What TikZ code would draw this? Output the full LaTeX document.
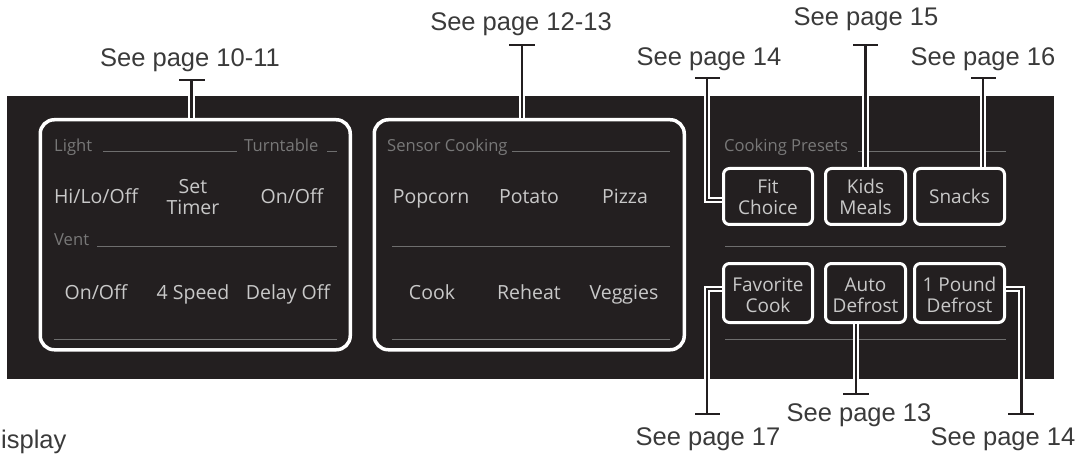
\documentclass[tikz,border=0pt]{standalone}
\usepackage{fontspec}
\setmainfont{Liberation Sans}
\newfontfamily\panelfont{Open Sans}
\definecolor{paneldark}{HTML}{231F20}
\definecolor{panelgrey}{HTML}{C8C8C8}
\definecolor{dimgrey}{HTML}{787878}
\definecolor{rulegrey}{HTML}{6E6E6E}
\definecolor{labelgrey}{HTML}{3A3A3A}
\newcommand{\ts}[1]{\rule{0pt}{#1pt}}
\newcommand{\ds}{\rule[-5pt]{0pt}{5pt}}
\tikzset{
  groupbox/.style={draw=white,line width=3.5pt,rounded corners=14pt,anchor=north west,inner sep=0pt},
  btn/.style={draw=white,line width=3pt,rounded corners=6pt,fill=paneldark,align=center,inner sep=0pt,text=panelgrey,
    font=\panelfont\fontsize{19}{21.5}\selectfont},
  key/.style={text=panelgrey,align=center,font=\panelfont\fontsize{19.5}{21.5}\selectfont,inner sep=0pt,anchor=base},
  keytwo/.style={text=panelgrey,align=center,font=\panelfont\fontsize{19.5}{21.5}\selectfont,inner sep=0pt},
  head/.style={text=dimgrey,font=\panelfont\fontsize{16.6}{19}\selectfont,anchor=base west,inner sep=0pt},
  rule/.style={draw=rulegrey,line width=1pt},
  leader/.style={draw=white,line width=2pt,double=paneldark,double distance=2.2pt,line join=miter},
  tbar/.style={draw=paneldark,line width=2pt},
  seelabel/.style={text=labelgrey,font=\fontsize{25.5}{28}\selectfont,inner sep=0pt,anchor=base}
}
\begin{document}
\begin{tikzpicture}[x=1pt,y=-1pt]
\useasboundingbox (0,0) rectangle (1091,454);
\fill[paneldark] (7,96) rectangle (1054,379);
% group boxes
\node[groupbox,minimum width=310pt,minimum height=230pt] (g1) at (38.5,118) {};
\node[groupbox,minimum width=310pt,minimum height=230pt] (g2) at (372.5,118) {};
% rules
\coordinate (r1a) at (103,152); \coordinate (r1b) at (237,152);
\coordinate (r2a) at (327,152); \coordinate (r2b) at (337,152);
\coordinate (r3a) at (97,246);  \coordinate (r3b) at (337,246);
\coordinate (r4a) at (54,339);  \coordinate (r4b) at (337,339);
\coordinate (r5a) at (512,152); \coordinate (r5b) at (670,152);
\coordinate (r6a) at (392,246); \coordinate (r6b) at (670,246);
\coordinate (r7a) at (392,339); \coordinate (r7b) at (670,339);
\coordinate (r8a) at (858,152); \coordinate (r8b) at (1006,152);
\coordinate (r9a) at (725,246); \coordinate (r9b) at (1006,246);
\coordinate (r10a) at (725,339); \coordinate (r10b) at (1006,339);
\foreach \i in {1,...,10} {\draw[rule] (r\i a) -- (r\i b);}
% headings
\node[head] (hLight) at (54,152) {Light};
\node[head] (hTurn) at (244,152) {Turntable};
\node[head] (hVent) at (54,246) {Vent};
\node[head] (hSensor) at (387,152) {Sensor Cooking};
\node[head] (hPresets) at (724,152) {Cooking Presets};
% keys
\node[key] (k1) at (96,204) {Hi/Lo/Off};
\node[keytwo] (k2) at (193,196.5) {\ts{20}Set\\Timer\ds};
\node[key] (k3) at (292,204) {On/Off};
\node[key] (k4) at (96,299) {On/Off};
\node[key] (k5) at (193,299) {4 Speed};
\node[key] (k6) at (288,299) {Delay Off};
\node[key] (k7) at (431,204) {Popcorn};
\node[key] (k8) at (529,204) {Potato};
\node[key] (k9) at (625,204) {Pizza};
\node[key] (k10) at (432,299) {Cook};
\node[key] (k11) at (529,299) {Reheat};
\node[key] (k12) at (624,299) {Veggies};
% buttons
\node[btn,minimum width=89pt,minimum height=56pt] (fit) at (768,196.5) {\ts{20}Fit\\Choice\ds};
\node[btn,minimum width=80pt,minimum height=56pt] (kids) at (865.5,196.5) {\ts{20}Kids\\Meals\ds};
\node[btn,minimum width=90pt,minimum height=56pt] (snacks) at (959.5,196.5) {\ts{20}Snacks\ds};
\node[btn,minimum width=89pt,minimum height=59pt] (fav) at (768,293) {\ts{23}Favorite\\Cook\ds};
\node[btn,minimum width=80pt,minimum height=59pt] (auto) at (865.5,293) {\ts{23}Auto\\Defrost\ds};
\node[btn,minimum width=90pt,minimum height=59pt] (pound) at (959.5,293) {\ts{23}1 Pound\\Defrost\ds};
% leader ends
\coordinate (t1) at (191.5,80); \coordinate (t1l) at (179,80); \coordinate (t1r) at (204.5,80);
\coordinate (t2) at (522,45); \coordinate (t2l) at (509,45); \coordinate (t2r) at (535,45);
\coordinate (t3) at (707,78); \coordinate (t3l) at (695,78); \coordinate (t3r) at (720,78);
\coordinate (t4) at (865.5,45); \coordinate (t4l) at (853,45); \coordinate (t4r) at (878,45);
\coordinate (t5) at (983,78); \coordinate (t5l) at (971,78); \coordinate (t5r) at (996,78);
\coordinate (t6) at (707,414); \coordinate (t6l) at (695,414); \coordinate (t6r) at (720,414);
\coordinate (t7) at (856,394); \coordinate (t7l) at (843,394); \coordinate (t7r) at (868.5,394);
\coordinate (t8) at (1021.5,414); \coordinate (t8l) at (1008,414); \coordinate (t8r) at (1034,414);
% leaders
\draw[leader] (t1) -- (t1 |- g1.north);
\draw[leader] (t2) -- (t2 |- g2.north);
\draw[leader] (t3) |- (fit.west |- 0,200);
\draw[leader] (t4) -- (t4 |- kids.north);
\draw[leader] (t5) -- (t5 |- snacks.north);
\draw[leader] (t6) |- (fav.west |- 0,289);
\draw[leader] (t7) -- (t7 |- auto.south);
\draw[leader] (t8) |- (pound.east |- 0,289);
\foreach \i in {1,...,8} {\draw[tbar] (t\i l) -- (t\i r);}
% labels
\node[seelabel] (s1) at (190,67) {See page 10-11};
\node[seelabel] (s2) at (521,31) {See page 12-13};
\node[seelabel] (s3) at (709,66) {See page 14};
\node[seelabel] (s4) at (866,26) {See page 15};
\node[seelabel] (s5) at (983,66) {See page 16};
\node[seelabel] (s6) at (708,445) {See page 17};
\node[seelabel] (s7) at (859,421) {See page 13};
\node[seelabel] (s8) at (1003,445) {See page 14};
\node[seelabel,anchor=base west] (s9) at (1,448) {isplay};
\end{tikzpicture}
\end{document}
